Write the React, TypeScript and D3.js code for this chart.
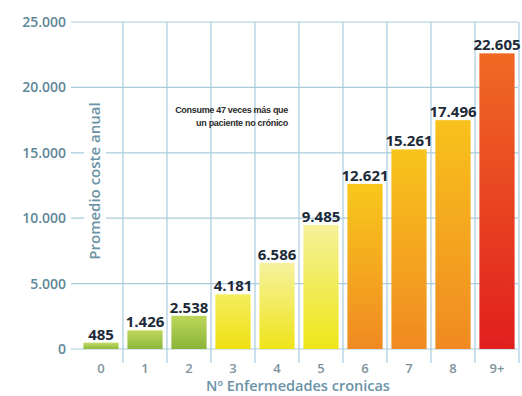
import React from "react";
import * as d3 from "d3";

// Average annual cost by number of chronic diseases
const categories = ["0", "1", "2", "3", "4", "5", "6", "7", "8", "9+"];
const costs = [485, 1426, 2538, 4181, 6586, 9485, 12621, 15261, 17496, 22605];
const valueLabels = ["485", "1.426", "2.538", "4.181", "6.586", "9.485", "12.621", "15.261", "17.496", "22.605"];
const yTicks = [0, 5000, 10000, 15000, 20000, 25000];
const yTickLabels = ["0", "5.000", "10.000", "15.000", "20.000", "25.000"];
// gradient stops (top, bottom) per bar
const barTops = ["#c3da64", "#c0d85e", "#bdd65a", "#f4ee5e", "#f6f29e", "#f5f29a", "#f8c81c", "#f8c41c", "#f8c21c", "#ef6a24"];
const barBottoms = ["#8db83e", "#8cb63c", "#8ab53a", "#f0e012", "#efe41a", "#eee618", "#f08a22", "#f08a22", "#f08a22", "#e11f1e"];

const W = 522;
const H = 396;

export default function App() {
  const x = d3.scaleBand<string>().domain(categories).range([79, 519]).paddingInner(0.2).paddingOuter(0.1);
  const y = d3.scaleLinear().domain([0, 25000]).range([349, 22]);
  const step = x.step();
  const boundaries = categories.map((c) => (x(c) as number) + x.bandwidth() + (step * 0.2) / 2);
  const grid = "#a9cbdd";
  const font = "'Open Sans', sans-serif";

  return (
    <svg width={W} height={H} style={{ position: "absolute", left: 0, top: 0, background: "#fff" }}>
      <defs>
        {categories.map((c, i) => (
          <linearGradient key={c} id={`g${i}`} x1="0" y1="0" x2="0" y2="1">
            <stop offset="0%" stopColor={barTops[i]} />
            <stop offset="100%" stopColor={barBottoms[i]} />
          </linearGradient>
        ))}
      </defs>

      {/* horizontal gridlines */}
      {yTicks.map((t) => (
        <line key={t} x1={71} x2={518} y1={y(t)} y2={y(t)} stroke={grid} strokeWidth={1.2} />
      ))}
      {/* vertical gridlines between categories */}
      {boundaries.map((bx, i) => (
        <line key={i} x1={bx} x2={bx} y1={y(25000)} y2={363} stroke={grid} strokeWidth={1.2} />
      ))}

      {/* y tick labels */}
      {yTicks.map((t, i) => (
        <text key={t} x={66} y={y(t) + 5} textAnchor="end" fontFamily={font} fontWeight={600} fontSize={14} fill="#5e8799">
          {yTickLabels[i]}
        </text>
      ))}

      {/* y axis title with white backing */}
      <g transform="translate(95,181) rotate(-90)">
        <rect x={-86} y={-11} width={172} height={22} fill="#fff" />
        <text x={0} y={5} textAnchor="middle" fontFamily={font} fontWeight={600} fontSize={15} fill="#6a93a6">
          Promedio coste anual
        </text>
      </g>

      {/* bars */}
      {costs.map((v, i) => (
        <rect
          key={categories[i]}
          x={x(categories[i])}
          y={y(v)}
          width={x.bandwidth()}
          height={y(0) - y(v)}
          fill={`url(#g${i})`}
        />
      ))}

      {/* value labels */}
      {costs.map((v, i) => (
        <text
          key={categories[i]}
          x={(x(categories[i]) as number) + x.bandwidth() / 2}
          y={y(v) - 3}
          textAnchor="middle"
          fontFamily={font}
          fontWeight={700}
          fontSize={15}
          fill="#1c2a38"
        >
          {valueLabels[i]}
        </text>
      ))}

      {/* x tick labels */}
      {categories.map((c) => (
        <text key={c} x={(x(c) as number) + x.bandwidth() / 2} y={373} textAnchor="middle" fontFamily={font} fontWeight={600} fontSize={13} fill="#7f939c">
          {c}
        </text>
      ))}

      {/* x axis title */}
      <text x={298} y={391} textAnchor="middle" fontFamily={font} fontWeight={600} fontSize={14.5} fill="#6a93a6">
        Nº Enfermedades cronicas
      </text>

      {/* annotation */}
      <text x={288} y={113} textAnchor="end" fontFamily="'Liberation Sans', sans-serif" fontWeight={700} fontSize={9} letterSpacing={-0.3} fill="#2a2a2a">
        Consume 47 veces más que
      </text>
      <text x={288} y={126} textAnchor="end" fontFamily="'Liberation Sans', sans-serif" fontWeight={700} fontSize={9} letterSpacing={-0.3} fill="#2a2a2a">
        un paciente no crónico
      </text>
    </svg>
  );
}
